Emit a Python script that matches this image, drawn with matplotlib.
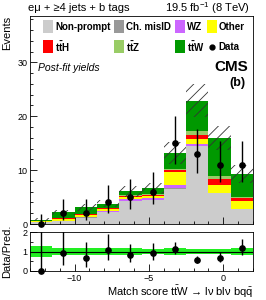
import numpy as np
import matplotlib
matplotlib.use("Agg")
import matplotlib.pyplot as plt
from matplotlib.patches import Rectangle
from matplotlib.ticker import MultipleLocator

plt.rcParams['font.family'] = ['Liberation Sans', 'DejaVu Sans']
plt.rcParams['mathtext.fontset'] = 'custom'
plt.rcParams['mathtext.rm'] = 'Liberation Sans'
plt.rcParams['mathtext.it'] = 'Liberation Sans:italic'
plt.rcParams['mathtext.bf'] = 'Liberation Sans:bold'
plt.rcParams['hatch.linewidth'] = 0.6

# =====================================================
# Data
# =====================================================
bin_edges = [-13.0, -11.5, -10.0, -8.5, -7.0, -5.5, -4.0, -2.5, -1.0, 0.5, 2.0]

non_prompt = [0.40, 0.50, 1.20, 2.20, 4.20, 4.40, 6.55, 14.40, 5.70, 2.70]
ch_misid = [0.00, 0.02, 0.03, 0.03, 0.05, 0.05, 0.05, 0.05, 0.05, 0.05]
wz = [0.03, 0.10, 0.12, 0.15, 0.45, 0.35, 0.60, 0.45, 0.05, 0.00]
other = [0.05, 0.30, 0.30, 0.35, 0.30, 0.40, 2.40, 0.80, 1.40, 1.50]
tth = [0.02, 0.12, 0.15, 0.15, 0.20, 0.20, 0.50, 0.90, 1.10, 0.55]
ttz = [0.03, 0.10, 0.10, 0.12, 0.10, 0.10, 0.15, 0.60, 0.60, 0.20]
ttw = [0.30, 1.06, 1.20, 0.80, 0.75, 1.10, 2.95, 5.70, 7.00, 4.30]
uncertainty = [0.25, 0.45, 0.60, 0.60, 1.00, 1.00, 2.10, 3.00, 2.20, 1.60]

data = [0, 2, 2, 4, 5, 6, 15, 13, 11, 11]
data_err_lo = [0.00, 1.29, 1.29, 1.91, 2.15, 2.37, 3.83, 3.55, 3.26, 3.26]
data_err_hi = [1.84, 2.64, 2.64, 3.16, 3.38, 3.58, 4.95, 4.69, 4.41, 4.41]

labels = ["Non-prompt", "Ch. misID", "WZ", "Other",
          r"$\mathbf{t\bar{t}H}$", r"$\mathbf{t\bar{t}Z}$", r"$\mathbf{t\bar{t}W}$"]
colors = ["#cccccc", "#999999", "#cc66ff", "#ffff00",
          "#ff0000", "#99cc66", "#009900"]

# =====================================================
# Derived arrays
# =====================================================
edges = np.array(bin_edges)
left = edges[:-1]
width = np.diff(edges)
centers = left + width / 2
components = [non_prompt, ch_misid, wz, other, tth, ttz, ttw]
total = np.sum(np.array(components), axis=0)
unc = np.array(uncertainty)
obs = np.array(data, dtype=float)

# =====================================================
# Figure
# =====================================================
fig = plt.figure(figsize=(2.66, 3.0), dpi=100)
ax = fig.add_axes([30 / 266, 1 - 224 / 300, 223 / 266, 208 / 300])
rax = fig.add_axes([30 / 266, 1 - 271 / 300, 223 / 266, 39 / 300])

# stacked backgrounds
bottom = np.zeros(len(left))
for comp, col in zip(components, colors):
    ax.bar(left, comp, width=width, bottom=bottom, align="edge",
           color=col, linewidth=0)
    bottom = bottom + np.array(comp)

# uncertainty hatch
ax.bar(left, 2 * unc, width=width, bottom=total - unc, align="edge",
       fill=False, hatch="///", edgecolor="#333333", linewidth=0)

# data
cont = ax.errorbar(centers, obs, yerr=[data_err_lo, data_err_hi], fmt="o",
                   color="black", markersize=3.8, elinewidth=1.0, capsize=0,
                   zorder=5)
cont[0].set_clip_on(False)

ax.set_xlim(edges[0], edges[-1])
ax.set_ylim(0, 38.6)
ax.set_ylabel("Events", loc="top", fontsize=8)
ax.yaxis.set_major_locator(MultipleLocator(10))
ax.yaxis.set_minor_locator(MultipleLocator(2))
ax.xaxis.set_major_locator(MultipleLocator(5))
ax.xaxis.set_minor_locator(MultipleLocator(1))
ax.tick_params(axis="x", labelbottom=False)

# ratio panel
rel = unc / total
rax.bar(left, 2 * rel, width=width, bottom=1 - rel, align="edge",
        color="#22ee22", linewidth=0)
rax.axhline(1.0, color="black", linewidth=0.8)
ratio = obs / total
rcont = rax.errorbar(centers, ratio,
                     yerr=[np.array(data_err_lo) / total,
                           np.array(data_err_hi) / total],
                     fmt="o", color="black", markersize=3.8, elinewidth=1.0,
                     capsize=0, zorder=5)
rcont[0].set_clip_on(False)
rax.set_xlim(edges[0], edges[-1])
rax.set_ylim(0, 2)
rax.set_ylabel("Data/Pred.", fontsize=8)
rax.set_xlabel(r"Match score $\mathrm{t\bar{t}W}$ → lν blν b$\mathrm{q\bar{q}}$",
               loc="right", fontsize=8, labelpad=1)
rax.yaxis.set_major_locator(MultipleLocator(1))
rax.yaxis.set_minor_locator(MultipleLocator(0.5))
rax.xaxis.set_major_locator(MultipleLocator(5))
rax.xaxis.set_minor_locator(MultipleLocator(1))

for a in (ax, rax):
    a.tick_params(which="both", direction="in", labelsize=6.5, pad=2)
    a.tick_params(which="major", length=5, width=0.6)
    a.tick_params(which="minor", length=2.5, width=0.6)
    for s in a.spines.values():
        s.set_linewidth(0.6)
ax.yaxis.set_label_coords(-0.08, 1.0)
rax.yaxis.set_label_coords(-0.08, 0.5)

# legend (hand placed, ROOT style)
leg_pos = [(43, 20), (114, 20), (175, 20), (207, 20),
           (43, 40), (114, 40), (175, 40)]
for (px, py), lab, col in zip(leg_pos, labels, colors):
    fig.patches.append(Rectangle((px / 266, 1 - (py + 13) / 300), 10 / 266, 13 / 300,
                                 transform=fig.transFigure, color=col, lw=0))
    fig.text((px + 12) / 266, 1 - (py + 7) / 300, lab, fontsize=7,
             fontweight="bold", va="center", ha="left")
fig.lines.append(plt.Line2D([212 / 266], [1 - 47 / 300], marker="o",
                            color="black", markersize=3.5,
                            transform=fig.transFigure))
fig.text(218 / 266, 1 - 47 / 300, "Data", fontsize=7, fontweight="bold",
         va="center", ha="left")

# annotations
fig.text(28 / 266, 1 - 8 / 300, "eμ + ≥4 jets + b tags", fontsize=8,
         va="center", ha="left")
fig.text(250 / 266, 1 - 8 / 300, r"19.5 fb$^{-1}$ (8 TeV)", fontsize=8,
         va="center", ha="right")
fig.text(248 / 266, 1 - 67 / 300, "CMS", fontsize=11, fontweight="bold",
         va="center", ha="right")
fig.text(246 / 266, 1 - 83 / 300, "(b)", fontsize=9, fontweight="bold",
         va="center", ha="right")
fig.text(38 / 266, 1 - 68 / 300, "Post-fit yields", fontsize=7.5,
         style="italic", va="center", ha="left")

fig.savefig("out.png", dpi=100)
